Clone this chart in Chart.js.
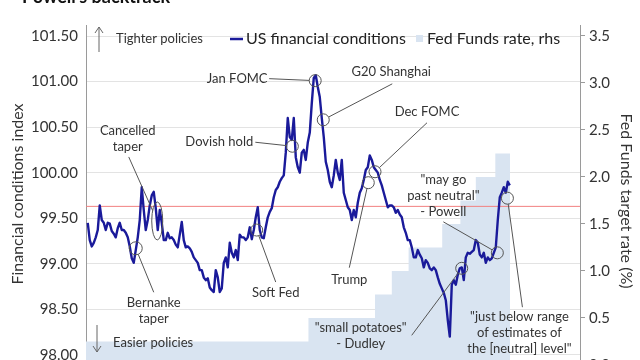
<!DOCTYPE html>
<html>
<head>
<meta charset="utf-8">
<script src="https://cdn.jsdelivr.net/npm/chart.js@4.4.1/dist/chart.umd.min.js"></script>
<style>
  html, body { margin: 0; padding: 0; background: #fff; overflow: hidden; }
  #wrap { width: 640px; height: 360px; overflow: hidden; }
</style>
</head>
<body>
<div id="wrap"><canvas id="chart" width="640" height="390"></canvas></div>
<script>
// US financial conditions index, sampled about every 11 days from Sep 2012
const fciStart = 2012.676;
const fciStep = 0.02976;
const fciValues = [
  99.45, 99.26, 99.19, 99.23, 99.29, 99.37, 99.64, 99.48, 99.45, 99.37,
  99.45, 99.44, 99.36, 99.33, 99.29, 99.39, 99.45, 99.37, 99.37, 99.34,
  99.29, 99.19, 99.06, 99.01, 99.15, 99.29, 99.48, 99.84, 99.59, 99.37,
  99.48, 99.64, 99.75, 99.79, 99.61, 99.37, 99.59, 99.45, 99.26, 99.26,
  99.34, 99.28, 99.29, 99.26, 99.21, 99.18, 99.32, 99.46, 99.26, 99.18,
  99.19, 99.17, 99.13, 99.07, 99.04, 99.01, 98.93, 98.93, 98.85, 98.82,
  98.84, 98.74, 98.71, 98.69, 98.93, 98.85, 98.69, 98.73, 99.01, 99.07,
  98.96, 99.23, 99.12, 99.07, 99.15, 99.04, 99.32, 99.29, 99.29, 99.26,
  99.29, 99.40, 99.27, 99.37, 99.51, 99.62, 99.37, 99.29, 99.28, 99.40,
  99.51, 99.57, 99.61, 99.73, 99.81, 99.84, 99.90, 99.94, 99.97, 100.22,
  100.60, 100.39, 100.36, 100.60, 100.17, 100.06, 100.00, 100.22, 100.25, 100.14,
  100.33, 100.44, 100.76, 101.04, 101.07, 100.94, 100.83, 100.60, 100.39, 100.12,
  100.03, 99.90, 99.84, 99.97, 100.14, 100.00, 99.92, 100.14, 99.78, 99.70,
  99.62, 99.59, 99.48, 99.59, 99.51, 99.67, 99.78, 99.83, 99.92, 100.03,
  100.06, 100.19, 100.14, 100.06, 100.03, 100.00, 99.92, 99.86, 99.78, 99.70,
  99.62, 99.64, 99.64, 99.62, 99.56, 99.59, 99.54, 99.51, 99.40, 99.34,
  99.26, 99.26, 99.18, 99.07, 99.07, 99.15, 99.10, 99.06, 98.96, 99.04,
  99.01, 98.95, 98.93, 98.96, 98.93, 98.85, 98.78, 98.73, 98.68, 98.60,
  98.38, 98.20, 98.77, 98.82, 98.77, 98.88, 98.95, 98.96, 98.82, 99.07,
  99.12, 99.11, 99.13, 99.15, 99.26, 99.23, 99.10, 99.07, 99.12, 99.01,
  99.07, 99.04, 99.06, 99.12, 99.18, 99.48, 99.73, 99.78, 99.84, 99.78,
  99.90, 99.86
];

// Fed Funds target rate (upper bound), date of each change
const fedDates = [2012.65, 2015.96, 2016.95, 2017.20, 2017.45, 2017.95, 2018.22, 2018.45, 2018.74, 2018.96];
const fedRates = [0.25, 0.50, 0.75, 1.00, 1.25, 1.50, 1.75, 2.00, 2.25, 2.25];

const refLevel = 99.63;

const leftTicks = [98.0, 98.5, 99.0, 99.5, 100.0, 100.5, 101.0, 101.5];
const rightTicks = [0.0, 0.5, 1.0, 1.5, 2.0, 2.5, 3.0, 3.5];

// annotated events
const noteDates = [2013.39, 2013.71, 2015.19, 2015.72, 2016.06, 2016.18, 2016.95, 2016.85, 2018.24, 2018.77, 2018.92];
const noteValues = [99.17, 99.47, 99.37, 100.29, 101.01, 100.58, 100.01, 99.89, 98.95, 99.12, 99.72];
const noteTexts = [
  ['Bernanke', 'taper'],
  ['Cancelled', 'taper'],
  ['Soft Fed'],
  ['Dovish hold'],
  ['Jan FOMC'],
  ['G20 Shanghai'],
  ['Dec FOMC'],
  ['Trump'],
  ['"small potatoes"', '- Dudley'],
  ['"may go', 'past neutral"', '- Powell'],
  ['"just below range', 'of estimates of', 'the [neutral] level"']
];

// label / leader offsets in px from the circled point
const noteLayout = [
  {rx: 6.5, ry: 6.5, tx: 18, ty: 55, lx: 18, ly: 44},
  {rx: 5.5, ry: 19, tx: -29.5, ty: -90, lx: -28.5, ly: -64},
  {tx: 19, ty: 63, lx: 19, ly: 52},
  {tx: -73, ty: -4, lx: -37, ly: -4},
  {tx: -78, ty: -2, lx: -46, ly: -2},
  {tx: 68, ty: -48, lx: 69, ly: -36},
  {tx: 52, ty: -60, lx: 52, ly: -49},
  {tx: -19, ty: 97, lx: -19, ly: 85},
  {tx: -101, ty: 59, lx: -50, ly: 67},
  {tx: -54, ty: -73, lx: -54, ly: -31},
  {tx: 12, ty: 119, lx: 15, ly: 109}
];

const lineBlue = '#1a1a9a';
const areaBlue = '#d9e4f1';
const xMin = 2012.65, xMax = 2020.0;

const fciData = fciValues.map((v, i) => ({x: fciStart + i * fciStep, y: v}));
const fedData = fedDates.map((d, i) => ({x: d, y: fedRates[i]}));

function arrow(ctx, x, y0, y1) {
  const dir = y1 < y0 ? 1 : -1;
  ctx.beginPath();
  ctx.moveTo(x, y0); ctx.lineTo(x, y1);
  ctx.moveTo(x - 4, y1 + dir * 6); ctx.lineTo(x, y1); ctx.lineTo(x + 4, y1 + dir * 6);
  ctx.stroke();
}

const overlay = {
  id: 'overlay',
  afterDatasetsDraw(chart) {
    const ctx = chart.ctx;
    const xs = chart.scales.x, ys = chart.scales.y;
    ctx.save();
    ctx.strokeStyle = '#555';
    ctx.lineWidth = 1;
    ctx.font = '13px Lato';
    ctx.fillStyle = '#333';
    ctx.textAlign = 'center';
    ctx.textBaseline = 'middle';
    noteDates.forEach((d, i) => {
      const cx = xs.getPixelForValue(d), cy = ys.getPixelForValue(noteValues[i]);
      const L = noteLayout[i];
      const rx = L.rx || 6, ry = L.ry || 6;
      ctx.beginPath();
      ctx.ellipse(cx, cy, rx, ry, 0, 0, Math.PI * 2);
      ctx.stroke();
      const len = Math.hypot(L.lx, L.ly);
      const ux = L.lx / len, uy = L.ly / len;
      const t = 1 / Math.sqrt((ux / rx) ** 2 + (uy / ry) ** 2);
      ctx.beginPath();
      ctx.moveTo(cx + ux * t, cy + uy * t);
      ctx.lineTo(cx + L.lx, cy + L.ly);
      ctx.stroke();
      noteTexts[i].forEach((s, k) => ctx.fillText(s, cx + L.tx, cy + L.ty + k * 16));
    });
    ctx.restore();
  },
  afterDraw(chart) {
    const ctx = chart.ctx;
    ctx.save();
    // title, cut off at the top like the source
    ctx.font = 'bold 18px Lato';
    ctx.fillStyle = '#111';
    ctx.textAlign = 'left';
    ctx.textBaseline = 'alphabetic';
    ctx.fillText("Powell's backtrack", 22, 3);

    // legend
    ctx.textBaseline = 'middle';
    ctx.font = '16px Lato';
    ctx.fillStyle = '#222';
    ctx.strokeStyle = lineBlue;
    ctx.lineWidth = 2.5;
    ctx.beginPath(); ctx.moveTo(230, 39); ctx.lineTo(243, 39); ctx.stroke();
    ctx.fillText('US financial conditions', 246, 39);
    ctx.fillStyle = areaBlue;
    ctx.fillRect(416, 35, 7, 7);
    ctx.fillStyle = '#222';
    ctx.fillText('Fed Funds rate, rhs', 427, 39);

    // policy arrows
    ctx.font = '13px Lato';
    ctx.fillStyle = '#333';
    ctx.fillText('Tighter policies', 116, 39);
    ctx.fillText('Easier policies', 113, 343);
    ctx.strokeStyle = '#666';
    ctx.lineWidth = 1;
    arrow(ctx, 99, 52, 27);
    arrow(ctx, 97, 325, 352);

    // axis titles
    ctx.font = '16px Lato';
    ctx.fillStyle = '#333';
    ctx.textAlign = 'center';
    ctx.save();
    ctx.translate(17.5, 194);
    ctx.rotate(-Math.PI / 2);
    ctx.fillText('Financial conditions index', 0, 0);
    ctx.restore();
    ctx.save();
    ctx.translate(626, 201);
    ctx.rotate(Math.PI / 2);
    ctx.fillText('Fed Funds target rate (%)', 0, 0);
    ctx.restore();
    ctx.restore();
  }
};

Chart.defaults.font.family = 'Lato';

new Chart(document.getElementById('chart'), {
  type: 'line',
  data: {
    datasets: [
      {
        label: 'US financial conditions',
        data: fciData,
        yAxisID: 'y',
        borderColor: lineBlue,
        borderWidth: 2.4,
        pointRadius: 0,
        tension: 0,
        borderJoinStyle: 'round',
        order: 1
      },
      {
        label: 'ref',
        data: [{x: xMin, y: refLevel}, {x: xMax, y: refLevel}],
        yAxisID: 'y',
        borderColor: '#f28080',
        borderWidth: 1,
        pointRadius: 0,
        order: 2
      },
      {
        label: 'Fed Funds rate, rhs',
        data: fedData,
        yAxisID: 'y2',
        stepped: 'before',
        borderWidth: 0,
        borderColor: areaBlue,
        backgroundColor: areaBlue,
        fill: 'start',
        pointRadius: 0,
        order: 3
      }
    ]
  },
  options: {
    responsive: false,
    animation: false,
    layout: { padding: { top: 25, bottom: 10, left: 0, right: 0 } },
    plugins: { legend: { display: false }, tooltip: { enabled: false } },
    scales: {
      x: { type: 'linear', min: xMin, max: xMax, display: false },
      y: {
        position: 'left',
        min: 97.724,
        max: 101.621,
        afterBuildTicks: (s) => { s.ticks = leftTicks.map(v => ({value: v})); },
        afterFit: (s) => { s.width = 86; s.paddingTop = 0; s.paddingBottom = 0; },
        ticks: {
          callback: (v) => Number(v).toFixed(2),
          font: { size: 15 },
          color: '#333',
          padding: 8
        },
        grid: { color: '#e3e3e3', drawTicks: false },
        border: { color: '#9a9a9a' }
      },
      y2: {
        position: 'right',
        min: -0.16,
        max: 3.617,
        afterBuildTicks: (s) => { s.ticks = rightTicks.map(v => ({value: v})); },
        afterFit: (s) => { s.width = 60; s.paddingTop = 0; s.paddingBottom = 0; },
        ticks: {
          callback: (v) => Number(v).toFixed(1),
          font: { size: 15 },
          color: '#333',
          padding: 4
        },
        grid: { drawOnChartArea: false, tickLength: 5, color: '#9a9a9a' },
        border: { color: '#9a9a9a' }
      }
    }
  },
  plugins: [overlay]
});
</script>
</body>
</html>
